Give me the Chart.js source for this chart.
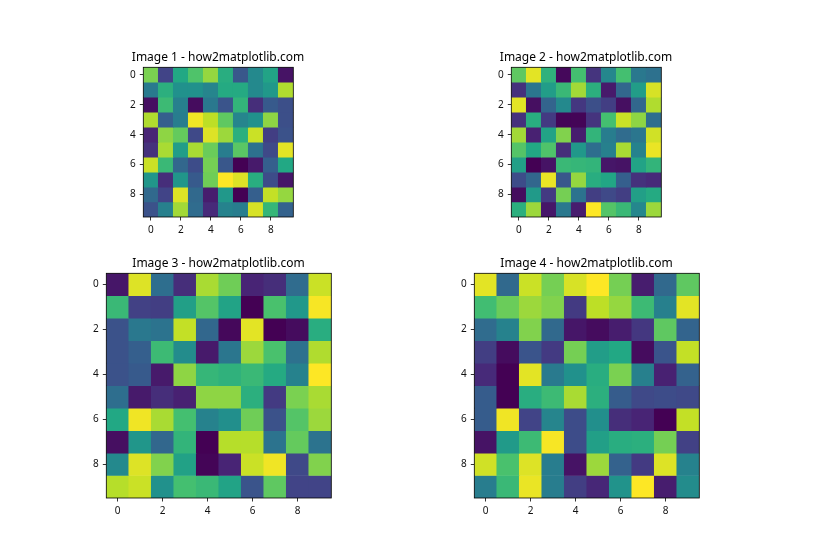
<!DOCTYPE html>
<html>
<head>
    <meta charset="utf-8">
    <script src="https://cdn.jsdelivr.net/npm/chart.js@4/dist/chart.umd.js"></script>
    <style>
        body { margin: 0; background: #fff; width: 840px; height: 560px; overflow: hidden; position: relative; }
        canvas { position: absolute; }
    </style>
</head>
<body>
<script>
    // cell values, 0..1 on the viridis scale
    var image1 = [
        [0.80, 0.20, 0.60, 0.72, 0.84, 0.62, 0.27, 0.47, 0.58, 0.05],
        [0.41, 0.63, 0.50, 0.50, 0.45, 0.61, 0.61, 0.47, 0.53, 0.88],
        [0.04, 0.68, 0.43, 0.03, 0.40, 0.26, 0.65, 0.13, 0.28, 0.24],
        [0.88, 0.30, 0.42, 0.98, 0.90, 0.75, 0.45, 0.50, 0.83, 0.24],
        [0.10, 0.83, 0.76, 0.22, 0.95, 0.85, 0.63, 0.92, 0.18, 0.25],
        [0.14, 0.87, 0.55, 0.87, 0.77, 0.42, 0.74, 0.37, 0.22, 0.96],
        [0.92, 0.67, 0.33, 0.23, 0.79, 0.27, 0.00, 0.07, 0.30, 0.60],
        [0.52, 0.13, 0.52, 0.28, 0.78, 1.00, 0.95, 0.62, 0.23, 0.06],
        [0.34, 0.20, 0.95, 0.34, 0.08, 0.53, 0.00, 0.30, 0.91, 0.84],
        [0.25, 0.43, 0.86, 0.35, 0.12, 0.44, 0.42, 0.94, 0.66, 0.31]
    ];
    var image2 = [
        [0.75, 0.96, 0.64, 0.02, 0.70, 0.15, 0.46, 0.70, 0.40, 0.37],
        [0.14, 0.39, 0.55, 0.67, 0.86, 0.63, 0.07, 0.33, 0.55, 0.94],
        [0.96, 0.04, 0.32, 0.47, 0.16, 0.24, 0.18, 0.04, 0.33, 0.88],
        [0.14, 0.62, 0.17, 0.01, 0.01, 0.15, 0.70, 0.92, 0.83, 0.36],
        [0.86, 0.09, 0.58, 0.81, 0.08, 0.65, 0.42, 0.35, 0.39, 0.93],
        [0.73, 0.60, 0.72, 0.13, 0.53, 0.36, 0.43, 0.87, 0.44, 0.97],
        [0.56, 0.00, 0.05, 0.67, 0.66, 0.65, 0.06, 0.05, 0.58, 0.65],
        [0.23, 0.33, 0.97, 0.27, 0.84, 0.62, 0.59, 0.30, 0.14, 0.12],
        [0.03, 0.54, 0.17, 0.79, 0.38, 0.18, 0.22, 0.18, 0.56, 0.61],
        [0.63, 0.85, 0.06, 0.40, 0.08, 1.00, 0.73, 0.67, 0.46, 0.85]
    ];
    var image3 = [
        [0.06, 0.95, 0.36, 0.13, 0.87, 0.78, 0.10, 0.13, 0.35, 0.92],
        [0.67, 0.19, 0.18, 0.56, 0.73, 0.58, 0.00, 0.71, 0.53, 0.99],
        [0.25, 0.40, 0.38, 0.91, 0.33, 0.02, 0.96, 0.00, 0.03, 0.62],
        [0.25, 0.30, 0.68, 0.48, 0.07, 0.39, 0.85, 0.71, 0.37, 0.88],
        [0.25, 0.28, 0.07, 0.83, 0.66, 0.64, 0.67, 0.61, 0.44, 1.00],
        [0.36, 0.07, 0.13, 0.09, 0.83, 0.83, 0.63, 0.17, 0.80, 0.87],
        [0.60, 0.98, 0.87, 0.70, 0.44, 0.49, 0.78, 0.25, 0.73, 0.85],
        [0.04, 0.52, 0.33, 0.65, 0.00, 0.89, 0.89, 0.38, 0.76, 0.38],
        [0.47, 0.95, 0.81, 0.57, 0.01, 0.10, 0.92, 0.98, 0.22, 0.81],
        [0.89, 0.92, 0.50, 0.70, 0.67, 0.58, 0.26, 0.75, 0.20, 0.20]
    ];
    var image4 = [
        [0.96, 0.34, 0.92, 0.79, 0.94, 1.00, 0.79, 0.08, 0.34, 0.75],
        [0.69, 0.77, 0.85, 0.81, 0.17, 0.90, 0.84, 0.68, 0.43, 0.96],
        [0.35, 0.44, 0.81, 0.34, 0.06, 0.03, 0.08, 0.16, 0.75, 0.32],
        [0.18, 0.03, 0.26, 0.17, 0.79, 0.55, 0.60, 0.03, 0.26, 0.91],
        [0.12, 0.00, 0.96, 0.41, 0.50, 0.62, 0.80, 0.43, 0.09, 0.31],
        [0.29, 0.00, 0.62, 0.68, 0.87, 0.63, 0.29, 0.22, 0.23, 0.22],
        [0.29, 0.98, 0.20, 0.45, 0.23, 0.49, 0.13, 0.10, 0.00, 0.91],
        [0.05, 0.54, 0.68, 0.99, 0.23, 0.56, 0.62, 0.63, 0.79, 0.19],
        [0.93, 0.71, 0.95, 0.42, 0.05, 0.85, 0.31, 0.17, 0.95, 0.44],
        [0.42, 0.67, 0.97, 0.42, 0.18, 0.11, 0.51, 1.00, 0.08, 0.48]
    ];
    var cells = [0, 1, 2, 3, 4, 5, 6, 7, 8, 9];
    var tickLabels = [0, 2, 4, 6, 8];
    var titles = ["Image 1 - how2matplotlib.com", "Image 2 - how2matplotlib.com",
                  "Image 3 - how2matplotlib.com", "Image 4 - how2matplotlib.com"];

    var viridis = [[68,1,84],[72,36,117],[65,68,135],[53,95,141],[42,120,142],[33,145,140],
                   [34,168,132],[68,191,112],[122,209,81],[189,223,38],[253,231,37]];

    function viridisColor(v) {
        var p = Math.min(v * 10, 9.999), i = Math.floor(p), t = p - i;
        var c = viridis[i].map(function (a, k) { return Math.round(a + (viridis[i + 1][k] - a) * t); });
        return "rgb(" + c.join(",") + ")";
    }

    var font = "'Noto Sans', 'Open Sans', sans-serif";
    var marginX = 50, marginY = 30;

    // the picture has a frame on all four sides
    var framePlugin = {
        id: "frame",
        afterDatasetsDraw: function (chart) {
            var a = chart.chartArea, c = chart.ctx;
            c.save();
            c.strokeStyle = "#000";
            c.lineWidth = 0.8;
            c.strokeRect(a.left, a.top, a.right - a.left, a.bottom - a.top);
            c.restore();
        }
    };

    function drawImage(values, title, left, top, size) {
        var canvas = document.createElement("canvas");
        canvas.width = size + marginX * 2;
        canvas.height = size + marginY * 2;
        var x0 = Math.floor(left), y0 = Math.floor(top);
        canvas.style.left = (x0 - marginX) + "px";
        canvas.style.top = (y0 - marginY) + "px";
        document.body.appendChild(canvas);

        var tickStyle = { color: "#111", font: { family: font, size: 10 }, padding: 4, maxRotation: 0, autoSkip: false };
        var gridStyle = { display: true, drawOnChartArea: false, drawTicks: true, tickLength: 3.5, tickColor: "#000", tickWidth: 0.8, offset: false };

        new Chart(canvas, {
            type: "bar",
            data: {
                labels: cells,
                datasets: values.map(function (row, r) {
                    return {
                        data: row.map(function () { return [r - 0.5, r + 0.5]; }),
                        backgroundColor: row.map(viridisColor),
                        borderWidth: 0,
                        grouped: false,
                        barPercentage: 1,
                        categoryPercentage: 1
                    };
                })
            },
            options: {
                responsive: false,
                animation: false,
                layout: { padding: 0 },
                plugins: {
                    legend: { display: false },
                    tooltip: { enabled: false },
                    title: {
                        display: true,
                        text: title,
                        color: "#000",
                        font: { family: font, size: 12, weight: "normal", lineHeight: 1 },
                        padding: { top: marginY - 16 + (top - y0), bottom: 4 }
                    }
                },
                scales: {
                    x: {
                        type: "category",
                        ticks: tickStyle,
                        grid: gridStyle,
                        border: { display: false },
                        afterBuildTicks: function (s) {
                            s.ticks = s.ticks.filter(function (t) { return tickLabels.indexOf(t.value) >= 0; });
                        },
                        afterFit: function (s) { s.height = marginY; }
                    },
                    y: {
                        type: "linear",
                        reverse: true,
                        min: -0.5,
                        max: 9.5,
                        ticks: tickStyle,
                        grid: gridStyle,
                        border: { display: false },
                        afterBuildTicks: function (s) {
                            s.ticks = tickLabels.map(function (v) { return { value: v }; });
                        },
                        afterFit: function (s) { s.width = marginX + (left - x0); }
                    },
                    // empty axis on the right, keeps the title centred over the plot
                    spacer: {
                        type: "linear",
                        position: "right",
                        ticks: { display: false },
                        grid: { display: false },
                        border: { display: false },
                        afterFit: function (s) { s.width = marginX - (left - x0); }
                    }
                }
            },
            plugins: [framePlugin]
        });
    }

    drawImage(image1, titles[0], 143.3, 67.3, 150);
    drawImage(image2, titles[1], 511.3, 67.3, 150);
    drawImage(image3, titles[2], 106.3, 273.3, 225);
    drawImage(image4, titles[3], 474.3, 273.3, 225);
</script>
</body>
</html>
